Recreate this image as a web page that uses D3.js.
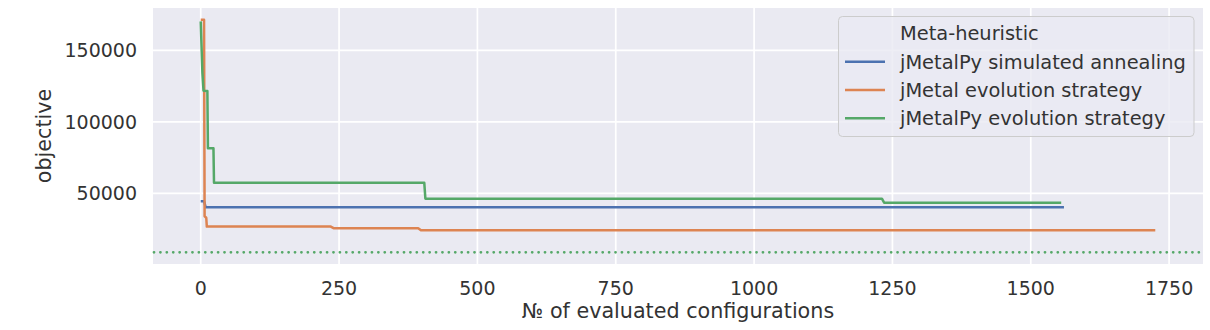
<!DOCTYPE html>
<html>
<head>
<meta charset="utf-8">
<script src="https://cdn.jsdelivr.net/npm/d3@7"></script>
<style>
  body { margin: 0; background: #fff; }
  svg { display: block; font-family: "DejaVu Sans", sans-serif; }
</style>
</head>
<body>
<div class="container"></div>
<script>
// best-so-far traces (x = evaluated configurations)
const seriesNames = ["jMetalPy simulated annealing", "jMetal evolution strategy", "jMetalPy evolution strategy"];
const colors = ["#4c72b0", "#dd8452", "#55a868"];

const annealX = [0, 6, 9, 1560];
const annealY = [44500, 44500, 40300, 40300];

const jmetalEsX = [0, 6, 7, 10, 11, 235, 240, 393, 398, 1725];
const jmetalEsY = [171500, 171500, 34000, 33000, 26800, 26800, 25700, 25700, 24200, 24200];

const pyEsX = [0, 3, 5, 12, 13, 23, 24, 404, 406, 1231, 1235, 1555];
const pyEsY = [170300, 134500, 121800, 121600, 81600, 81500, 57400, 57400, 46300, 46300, 43500, 43500];

const referenceY = 8800;   // dotted horizontal line

const xTicks = [0, 250, 500, 750, 1000, 1250, 1500, 1750];
const yTicks = [50000, 100000, 150000];

const width = 1210, height = 330;
const plot = {left: 153, right: 1203, top: 8, bottom: 264};

const series = [
  {name: seriesNames[0], xs: annealX, ys: annealY},
  {name: seriesNames[1], xs: jmetalEsX, ys: jmetalEsY},
  {name: seriesNames[2], xs: pyEsX, ys: pyEsY}
];

// matplotlib style 5% margins
const allX = [].concat(annealX, jmetalEsX, pyEsX);
const allY = [].concat(annealY, jmetalEsY, pyEsY, [referenceY]);
const [x0, x1] = d3.extent(allX);
const [y0, y1] = d3.extent(allY);
const px = (x1 - x0) * 0.05, py = (y1 - y0) * 0.05;

const x = d3.scaleLinear().domain([x0 - px, x1 + px]).range([plot.left, plot.right]);
const y = d3.scaleLinear().domain([y0 - py, y1 + py]).range([plot.bottom, plot.top]);

let svg = d3.select(".container").append("svg")
  .attr("width", width)
  .attr("height", height);

svg.append("rect")
  .attr("x", plot.left).attr("y", plot.top)
  .attr("width", plot.right - plot.left)
  .attr("height", plot.bottom - plot.top)
  .attr("fill", "#eaeaf2");

// grid
svg.append("g").selectAll("line")
  .data(xTicks).enter().append("line")
  .attr("x1", d => x(d)).attr("x2", d => x(d))
  .attr("y1", plot.top).attr("y2", plot.bottom)
  .attr("stroke", "#fff").attr("stroke-width", 1.7);

svg.append("g").selectAll("line")
  .data(yTicks).enter().append("line")
  .attr("x1", plot.left).attr("x2", plot.right)
  .attr("y1", d => y(d)).attr("y2", d => y(d))
  .attr("stroke", "#fff").attr("stroke-width", 1.7);

// tick labels
svg.append("g").selectAll("text")
  .data(xTicks).enter().append("text")
  .attr("x", d => x(d)).attr("y", 295)
  .attr("text-anchor", "middle")
  .attr("font-size", 19).attr("fill", "#333")
  .text(d => d);

svg.append("g").selectAll("text")
  .data(yTicks).enter().append("text")
  .attr("x", 137).attr("y", d => y(d))
  .attr("dy", "0.36em")
  .attr("text-anchor", "end")
  .attr("font-size", 19).attr("fill", "#333")
  .text(d => d);

// axis titles
svg.append("text")
  .attr("x", (plot.left + plot.right) / 2).attr("y", 318)
  .attr("text-anchor", "middle")
  .attr("font-size", 20.7).attr("fill", "#333")
  .text("№ of evaluated configurations");

svg.append("text")
  .attr("transform", `translate(51, ${(plot.top + plot.bottom) / 2}) rotate(-90)`)
  .attr("text-anchor", "middle")
  .attr("font-size", 20.7).attr("fill", "#333")
  .text("objective");

// reference dotted line
svg.append("line")
  .attr("x1", plot.left + 1).attr("x2", plot.right)
  .attr("y1", y(referenceY)).attr("y2", y(referenceY))
  .attr("stroke", colors[2]).attr("stroke-width", 2.8)
  .attr("stroke-linecap", "round")
  .attr("stroke-dasharray", "0.01,6.4");

const line = d3.line().x(d => x(d[0])).y(d => y(d[1]));

svg.append("g").selectAll("path")
  .data(series).enter().append("path")
  .attr("d", s => line(s.xs.map((v, i) => [v, s.ys[i]])))
  .attr("fill", "none")
  .attr("stroke", (s, i) => colors[i])
  .attr("stroke-width", 2.5)
  .attr("stroke-linejoin", "round");

// legend
const lg = svg.append("g");
lg.append("rect")
  .attr("x", 838.5).attr("y", 16.5)
  .attr("width", 355.5).attr("height", 120)
  .attr("rx", 4)
  .attr("fill", "#eaeaf2").attr("fill-opacity", 0.8)
  .attr("stroke", "#cccccc").attr("stroke-width", 1);

const rows = ["Meta-heuristic"].concat(seriesNames);
const rowY = d3.scaleLinear().domain([0, 3]).range([33.3, 118.3]);

lg.selectAll("text")
  .data(rows).enter().append("text")
  .attr("x", 900).attr("y", (d, i) => rowY(i))
  .attr("dy", "0.36em")
  .attr("font-size", 19.4).attr("fill", "#333")
  .text(d => d);

lg.selectAll("line")
  .data(seriesNames).enter().append("line")
  .attr("x1", 845).attr("x2", 885)
  .attr("y1", (d, i) => rowY(i + 1)).attr("y2", (d, i) => rowY(i + 1))
  .attr("stroke", (d, i) => colors[i]).attr("stroke-width", 2.5);
</script>
</body>
</html>
